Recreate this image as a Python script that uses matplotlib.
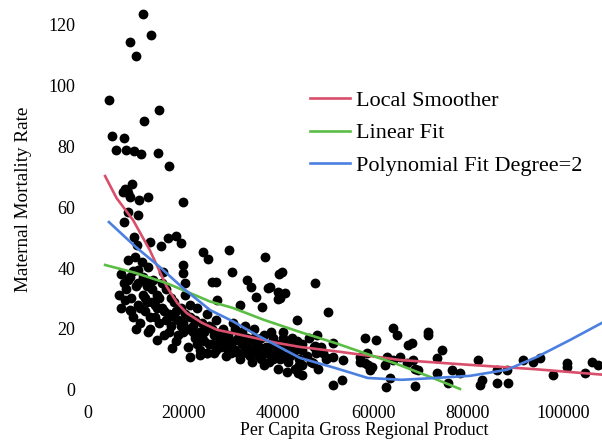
import matplotlib
matplotlib.use("Agg")
import matplotlib.pyplot as plt

# scatter: per capita GRP vs maternal mortality rate
gdp = [11600, 13300, 8800, 10100, 4400, 14900, 11800, 5100, 7600, 5900, 8000, 9700,
       11200, 14700, 17100, 9300, 7800, 8400, 7400, 8800, 10700, 12600, 20000, 8200,
       8400, 10500, 7600, 9700, 13100, 16800, 18500, 19600, 15400, 10300, 24200, 25300,
       8400, 9900, 11400, 20000, 20000, 10500, 12600, 8800, 12000, 13700, 15800, 20400,
       26100, 29700, 37300, 40800, 40200, 30300, 26900, 33500, 34300, 37900, 40000, 40400,
       35400, 36600, 32000, 27200, 47800, 38300, 41500, 40000, 7800, 8800, 12600, 14500,
       17700, 21500, 23600, 25000, 44000, 41900, 44200, 50500, 48200, 47800, 51600, 51600,
       45000, 45000, 47400, 50300, 53700, 51600, 53500, 58300, 60600, 64200, 65000, 67400,
       68200, 71600, 71600, 74500, 57300, 58700, 59800, 58300, 62900, 64200, 65700, 67100,
       68400, 69500, 62700, 63600, 68800, 73500, 73500, 76600, 78300, 82100, 82900, 82500,
       86100, 88400, 86100, 88200, 91600, 93700, 95100, 97900, 100800, 100800, 104600, 106100,
       107400, 57300, 58900, 59400, 62500, 75800, 68800]
mortality = [123.3, 116.4, 114.1, 109.5, 95.1, 91.8, 88.2, 83.3, 82.6, 78.7, 78.7, 78.4,
             77.4, 77.7, 73.4, 67.5, 65.9, 64.6, 64.9, 63.3, 62.3, 63.3, 61.6, 65.6,
             58.4, 57.4, 55.1, 50.2, 48.5, 49.8, 50.5, 48.2, 47.2, 47.5, 45.2, 43.0,
             42.6, 43.6, 42.0, 41.0, 38.4, 39.3, 40.3, 37.0, 36.1, 36.1, 38.7, 35.1,
             35.4, 45.9, 43.6, 38.7, 38.0, 38.7, 35.4, 36.1, 33.8, 33.4, 32.1, 30.2,
             30.5, 27.2, 27.9, 29.5, 35.1, 33.8, 31.8, 29.8, 29.5, 26.2, 19.0, 16.4,
             13.8, 10.8, 11.5, 12.1, 23.0, 5.9, 5.6, 25.6, 18.0, 14.4, 15.4, 10.8,
             8.2, 4.9, 8.9, 10.5, 9.8, 1.6, 3.3, 17.0, 16.4, 20.3, 18.0, 14.8,
             15.4, 19.0, 18.0, 13.1, 10.8, 12.1, 7.5, 8.9, 10.8, 9.8, 10.8, 8.9,
             9.8, 6.6, 1.0, 3.9, 1.3, 5.6, 10.5, 6.6, 5.6, 9.8, 3.3, 1.6,
             2.3, 2.3, 6.6, 6.6, 9.8, 9.2, 10.5, 4.9, 8.9, 7.5, 5.6, 9.2,
             8.2, 9.2, 8.2, 6.6, 8.2, 2.3, 6.9]

# the dense cloud under the curves
gdp_dense = [6500, 7000, 7500, 8000, 9000, 9500, 10000, 10500, 11000, 11500, 12000, 12500,
             13000, 13500, 14000, 14500, 15000, 15500, 16000, 16500, 17000, 17500, 18000, 18500,
             19000, 19500, 20000, 20500, 21000, 21500, 22000, 22500, 23000, 23500, 24000, 24500,
             25000, 25500, 26000, 26500, 27000, 27500, 28000, 28500, 29000, 29500, 30000, 30500,
             31000, 31500, 32000, 32500, 33000, 33500, 34000, 34500, 35000, 35500, 36000, 36500,
             37000, 37500, 38000, 38500, 39000, 39500, 40000, 40500, 41000, 41500, 42000, 42500,
             43000, 43500, 44000, 44500, 45000, 46000, 47000, 48000, 49000, 50000,
             7000, 8500, 9500, 10500, 11500, 12500, 13500, 14500, 15500, 16500, 17500, 18500,
             19500, 20500, 21500, 22500, 23500, 24500, 25500, 26500, 27500, 28500, 29500, 30500,
             31500, 32500, 33500, 34500, 35500, 36500, 37500, 38500, 39500, 40500, 41500, 42500,
             43500, 44500, 12000, 14000, 16000, 18000, 20000, 22000, 24000, 26000, 28000, 30000,
             32000, 34000, 36000, 38000, 40000, 9000, 10000, 11000, 13000, 15000, 17000, 19000,
             21000, 23000, 25000, 27000, 29000, 31000, 33000, 35000, 37000, 39000, 41000, 43000,
             45000, 46500, 47500, 48500, 49500]
mortality_dense = [31, 27, 35, 33, 30, 24, 34, 28, 22, 31, 26, 34,
                   20, 29, 24, 31, 22, 27, 18, 33, 25, 21, 29, 16,
                   23, 27, 19, 31, 14, 24, 21, 17, 27, 13, 22, 19,
                   25, 15, 20, 12, 23, 17, 14, 20, 11, 18, 15, 22,
                   13, 17, 10, 19, 14, 12, 16, 9, 20, 13, 11, 17,
                   8, 14, 12, 19, 10, 15, 7, 13, 17, 11, 9, 14,
                   12, 7, 16, 10, 13, 11, 9, 12, 14, 10,
                   38, 36, 39, 35, 37, 29, 33, 27, 35, 23, 30, 26,
                   21, 25, 28, 23, 19, 16, 21, 18, 15, 17, 13, 16,
                   12, 15, 17, 13, 15, 10, 12, 14, 12, 10, 15, 11,
                   13, 8, 30, 28, 26, 24, 22, 19, 17, 15, 19, 12,
                   16, 11, 14, 9, 11, 26, 20, 27, 24, 30, 19, 18,
                   20, 15, 12, 13, 16, 20, 21, 17, 18, 17, 19, 17,
                   15, 17, 14, 7, 12]

# fitted curves
smooth_x = [3600, 6000, 9500, 13000, 16600, 18800, 20800, 24000, 27200, 34100, 39800,
            44600, 53000, 65700, 80400, 94000, 108200]
smooth_y = [70.2, 63.0, 55.7, 45.9, 33.8, 28.5, 25.2, 22.0, 19.7, 17.4, 15.4,
            14.1, 12.5, 9.8, 8.2, 6.8, 5.0]
linear_x = [3600, 10000, 16600, 25700, 30500, 37000, 44600, 52000, 58700, 65000, 72600, 78300]
linear_y = [41.0, 38.4, 35.0, 29.0, 26.9, 23.0, 19.0, 15.4, 11.8, 8.5, 3.9, 0.3]
poly_x = [4400, 10000, 15000, 20000, 25700, 30500, 34700, 44600, 52000, 58900, 66100,
          73000, 80400, 88200, 94500, 101500, 108200]
poly_y = [55.1, 47.0, 40.5, 33.4, 26.2, 22.5, 18.7, 10.5, 7.2, 3.9, 3.3,
          3.9, 4.6, 6.6, 10.8, 16.4, 22.0]

xticks = [0, 20000, 40000, 60000, 80000, 100000]
yticks = [0, 20, 40, 60, 80, 100, 120]

plt.rcParams['font.family'] = ['Liberation Serif', 'DejaVu Serif']

fig = plt.figure(figsize=(6.02, 4.42), dpi=100)
ax = fig.add_axes([88 / 602, 43 / 442, 514 / 602, 399 / 442])

ax.scatter(gdp + gdp_dense, mortality + mortality_dense, s=50, color='black',
           linewidths=0, zorder=2, clip_on=False)
ax.plot(smooth_x, smooth_y, color='#d94f6b', lw=1.9, label='Local Smoother', zorder=3)
ax.plot(linear_x, linear_y, color='#5bbd45', lw=1.9, label='Linear Fit', zorder=3)
ax.plot(poly_x, poly_y, color='#4c80e0', lw=1.9, label='Polynomial Fit Degree=2', zorder=3)

ax.set_xlim(0, 108200)
ax.set_ylim(-3, 128)
ax.set_xticks(xticks)
ax.set_yticks(yticks)
ax.tick_params(length=0, labelsize=13)
ax.tick_params(axis='y', pad=9)
ax.tick_params(axis='x', pad=4)
for s in ax.spines.values():
    s.set_visible(False)

ax.set_xlabel('Per Capita Gross Regional Product', fontsize=12.8)
ax.xaxis.set_label_coords(0.537, -0.058)
ax.set_ylabel('Maternal Mortality Rate', fontsize=13.8)
ax.yaxis.set_label_coords(-0.108, 0.5)

ax.legend(loc='upper left', bbox_to_anchor=((310 - 88) / 514, 1 - 90 / 399),
          frameon=False, fontsize=16, handlelength=1.8, handletextpad=0.27,
          labelspacing=0.55, borderpad=0, borderaxespad=0)

fig.savefig('out.png', dpi=100)
